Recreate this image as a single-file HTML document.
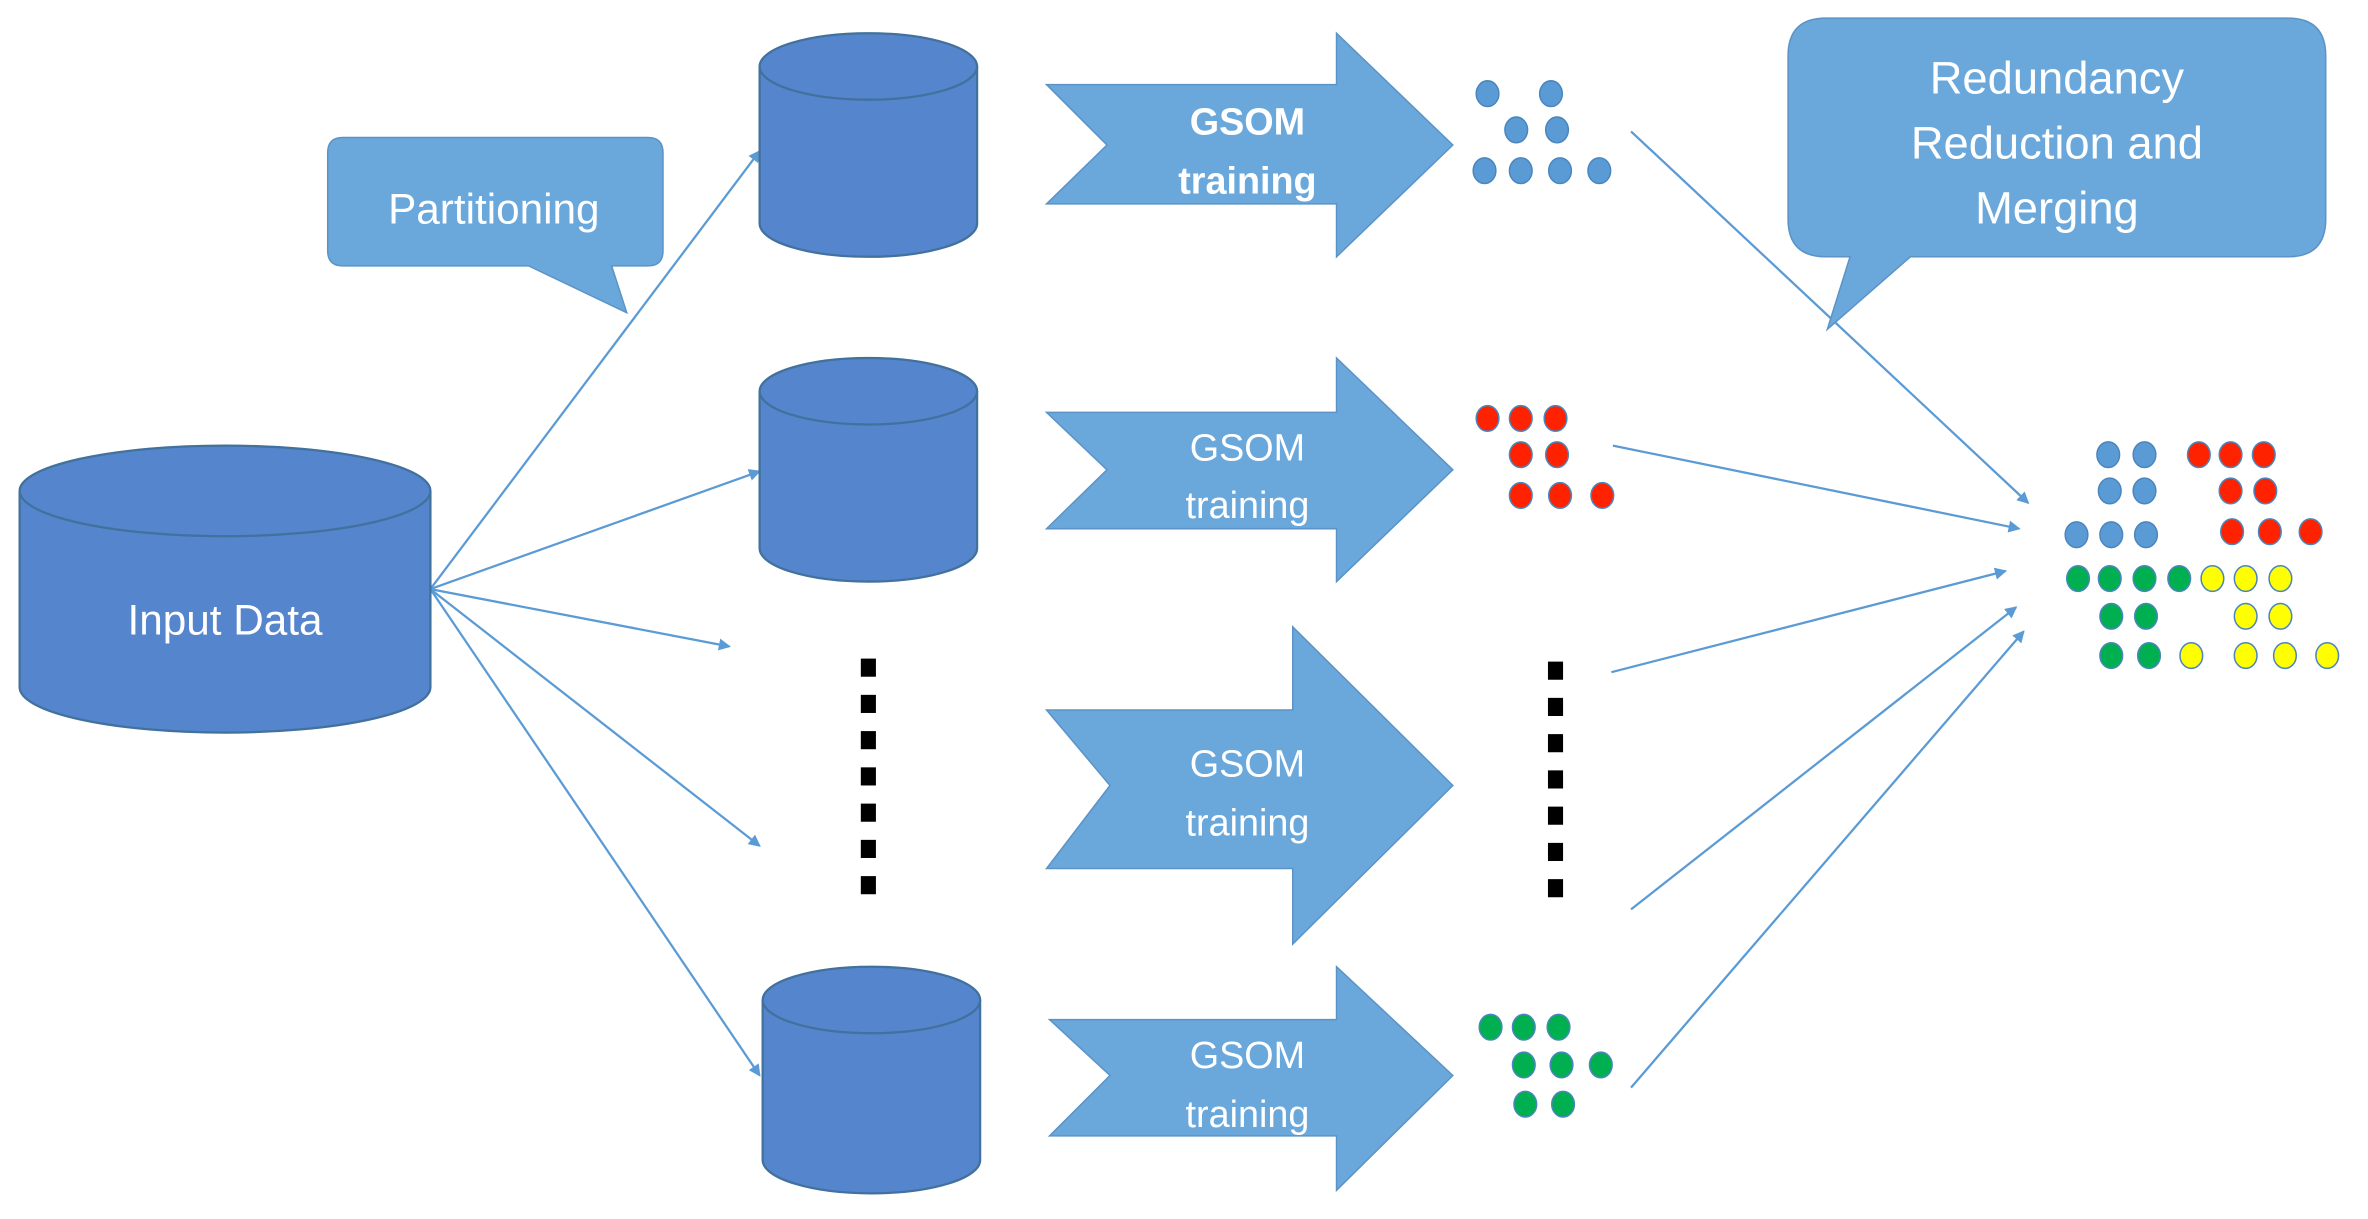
<!DOCTYPE html>
<html><head><meta charset="utf-8"><style>html,body{margin:0;padding:0;background:#fff}svg{display:block}text{font-family:"Liberation Sans",sans-serif;fill:#fff}</style></head>
<body>
<svg width="2368" height="1219" viewBox="0 0 1568 807" preserveAspectRatio="none" xmlns="http://www.w3.org/2000/svg">
<defs>
<marker id="a" markerWidth="8" markerHeight="8" refX="7" refY="4" orient="auto" markerUnits="userSpaceOnUse"><path d="M0,0 L8,4 L0,8 z" fill="#5B9BD5"/></marker>
</defs>
<g stroke="#5B9BD5" stroke-width="1.5" fill="none" marker-end="url(#a)">
<line x1="285" y1="390" x2="503" y2="100"/>
<line x1="285" y1="390" x2="503" y2="312"/>
<line x1="285" y1="390" x2="483" y2="428"/>
<line x1="285" y1="390" x2="503" y2="560"/>
<line x1="285" y1="390" x2="503" y2="712"/>
<line x1="1080" y1="87" x2="1343" y2="333"/>
<line x1="1068" y1="295" x2="1337" y2="350"/>
<line x1="1067" y1="445" x2="1328" y2="378"/>
<line x1="1080" y1="602" x2="1335" y2="402"/>
<line x1="1080" y1="720" x2="1340" y2="418"/>
</g>
<g fill="#5585CD" stroke="#41719C" stroke-width="1.5">
<path d="M13,325 L13,455 A136,30 0 0 0 285,455 L285,325"/>
<ellipse cx="149" cy="325" rx="136" ry="30"/>
<path d="M503,44 L503,148 A72,22 0 0 0 647,148 L647,44"/>
<ellipse cx="575" cy="44" rx="72" ry="22"/>
<path d="M503,259 L503,363 A72,22 0 0 0 647,363 L647,259"/>
<ellipse cx="575" cy="259" rx="72" ry="22"/>
<path d="M505,662 L505,768 A72,22 0 0 0 649,768 L649,662"/>
<ellipse cx="577" cy="662" rx="72" ry="22"/>
</g>
<text x="149" y="420" font-size="28" text-anchor="middle">Input Data</text>
<g fill="#6AA8DC" stroke="#5B93C7" stroke-width="1">
<path d="M227,91 H429 Q439,91 439,101 V166 Q439,176 429,176 H405 L415,207 L350,176 H227 Q217,176 217,166 V101 Q217,91 227,91 Z"/>
<path d="M1209,12 H1515 Q1540,12 1540,37 V145 Q1540,170 1515,170 H1265 L1210,218 L1225,170 H1209 Q1184,170 1184,145 V37 Q1184,12 1209,12 Z"/>
<path d="M693,56 H885 V22 L962,96 L885,170 V135 H693 L733,96 Z"/>
<path d="M693,273 H885 V237 L962,311 L885,385 V350 H693 L733,311 Z"/>
<path d="M693,470 H856 V415 L962,520 L856,625 V575 H693 L735,520 Z"/>
<path d="M695,675 H885 V640 L962,712 L885,788 V752 H695 L735,712 Z"/>
</g>
<text x="327" y="148" font-size="28" text-anchor="middle">Partitioning</text>
<g font-size="30" text-anchor="middle"><text x="1362" y="62">Redundancy</text><text x="1362" y="105">Reduction and</text><text x="1362" y="148">Merging</text></g>
<g font-size="25" text-anchor="middle">
<text x="826" y="89" font-weight="bold">GSOM</text><text x="826" y="128" font-weight="bold">training</text>
<text x="826" y="305">GSOM</text><text x="826" y="343">training</text>
<text x="826" y="514">GSOM</text><text x="826" y="553">training</text>
<text x="826" y="707">GSOM</text><text x="826" y="746">training</text>
</g>
<g fill="#000">
<rect x="570" y="436" width="10" height="12"/><rect x="570" y="460" width="10" height="12"/><rect x="570" y="484" width="10" height="12"/><rect x="570" y="508" width="10" height="12"/><rect x="570" y="532" width="10" height="12"/><rect x="570" y="556" width="10" height="12"/><rect x="570" y="580" width="10" height="12"/>
<rect x="1025" y="438" width="10" height="12"/><rect x="1025" y="462" width="10" height="12"/><rect x="1025" y="486" width="10" height="12"/><rect x="1025" y="510" width="10" height="12"/><rect x="1025" y="534" width="10" height="12"/><rect x="1025" y="558" width="10" height="12"/><rect x="1025" y="582" width="10" height="12"/>
</g>
<g stroke-width="1" >
<g fill="#5B9BD5" stroke="#4A86BD">
<ellipse cx="985" cy="62" rx="7.5" ry="8.5"/><ellipse cx="1027" cy="62" rx="7.5" ry="8.5"/><ellipse cx="1004" cy="86" rx="7.5" ry="8.5"/><ellipse cx="1031" cy="86" rx="7.5" ry="8.5"/><ellipse cx="983" cy="113" rx="7.5" ry="8.5"/><ellipse cx="1007" cy="113" rx="7.5" ry="8.5"/><ellipse cx="1033" cy="113" rx="7.5" ry="8.5"/><ellipse cx="1059" cy="113" rx="7.5" ry="8.5"/>
<ellipse cx="1396" cy="301" rx="7.5" ry="8.5"/><ellipse cx="1420" cy="301" rx="7.5" ry="8.5"/><ellipse cx="1397" cy="325" rx="7.5" ry="8.5"/><ellipse cx="1420" cy="325" rx="7.5" ry="8.5"/><ellipse cx="1375" cy="354" rx="7.5" ry="8.5"/><ellipse cx="1398" cy="354" rx="7.5" ry="8.5"/><ellipse cx="1421" cy="354" rx="7.5" ry="8.5"/>
</g>
<g fill="#FF2200" stroke="#4A86BD">
<ellipse cx="985" cy="277" rx="7.5" ry="8.5"/><ellipse cx="1007" cy="277" rx="7.5" ry="8.5"/><ellipse cx="1030" cy="277" rx="7.5" ry="8.5"/><ellipse cx="1007" cy="301" rx="7.5" ry="8.5"/><ellipse cx="1031" cy="301" rx="7.5" ry="8.5"/><ellipse cx="1007" cy="328" rx="7.5" ry="8.5"/><ellipse cx="1033" cy="328" rx="7.5" ry="8.5"/><ellipse cx="1061" cy="328" rx="7.5" ry="8.5"/>
<ellipse cx="1456" cy="301" rx="7.5" ry="8.5"/><ellipse cx="1477" cy="301" rx="7.5" ry="8.5"/><ellipse cx="1499" cy="301" rx="7.5" ry="8.5"/><ellipse cx="1477" cy="325" rx="7.5" ry="8.5"/><ellipse cx="1500" cy="325" rx="7.5" ry="8.5"/><ellipse cx="1478" cy="352" rx="7.5" ry="8.5"/><ellipse cx="1503" cy="352" rx="7.5" ry="8.5"/><ellipse cx="1530" cy="352" rx="7.5" ry="8.5"/>
</g>
<g fill="#00B050" stroke="#4A86BD">
<ellipse cx="987" cy="680" rx="7.5" ry="8.5"/><ellipse cx="1009" cy="680" rx="7.5" ry="8.5"/><ellipse cx="1032" cy="680" rx="7.5" ry="8.5"/><ellipse cx="1009" cy="705" rx="7.5" ry="8.5"/><ellipse cx="1034" cy="705" rx="7.5" ry="8.5"/><ellipse cx="1060" cy="705" rx="7.5" ry="8.5"/><ellipse cx="1010" cy="731" rx="7.5" ry="8.5"/><ellipse cx="1035" cy="731" rx="7.5" ry="8.5"/>
<ellipse cx="1376" cy="383" rx="7.5" ry="8.5"/><ellipse cx="1397" cy="383" rx="7.5" ry="8.5"/><ellipse cx="1420" cy="383" rx="7.5" ry="8.5"/><ellipse cx="1443" cy="383" rx="7.5" ry="8.5"/><ellipse cx="1398" cy="408" rx="7.5" ry="8.5"/><ellipse cx="1421" cy="408" rx="7.5" ry="8.5"/><ellipse cx="1398" cy="434" rx="7.5" ry="8.5"/><ellipse cx="1423" cy="434" rx="7.5" ry="8.5"/>
</g>
<g fill="#FFFF00" stroke="#4A86BD">
<ellipse cx="1465" cy="383" rx="7.5" ry="8.5"/><ellipse cx="1487" cy="383" rx="7.5" ry="8.5"/><ellipse cx="1510" cy="383" rx="7.5" ry="8.5"/><ellipse cx="1487" cy="408" rx="7.5" ry="8.5"/><ellipse cx="1510" cy="408" rx="7.5" ry="8.5"/><ellipse cx="1451" cy="434" rx="7.5" ry="8.5"/><ellipse cx="1487" cy="434" rx="7.5" ry="8.5"/><ellipse cx="1513" cy="434" rx="7.5" ry="8.5"/><ellipse cx="1541" cy="434" rx="7.5" ry="8.5"/>
</g>
</g>
</svg>
</body></html>
